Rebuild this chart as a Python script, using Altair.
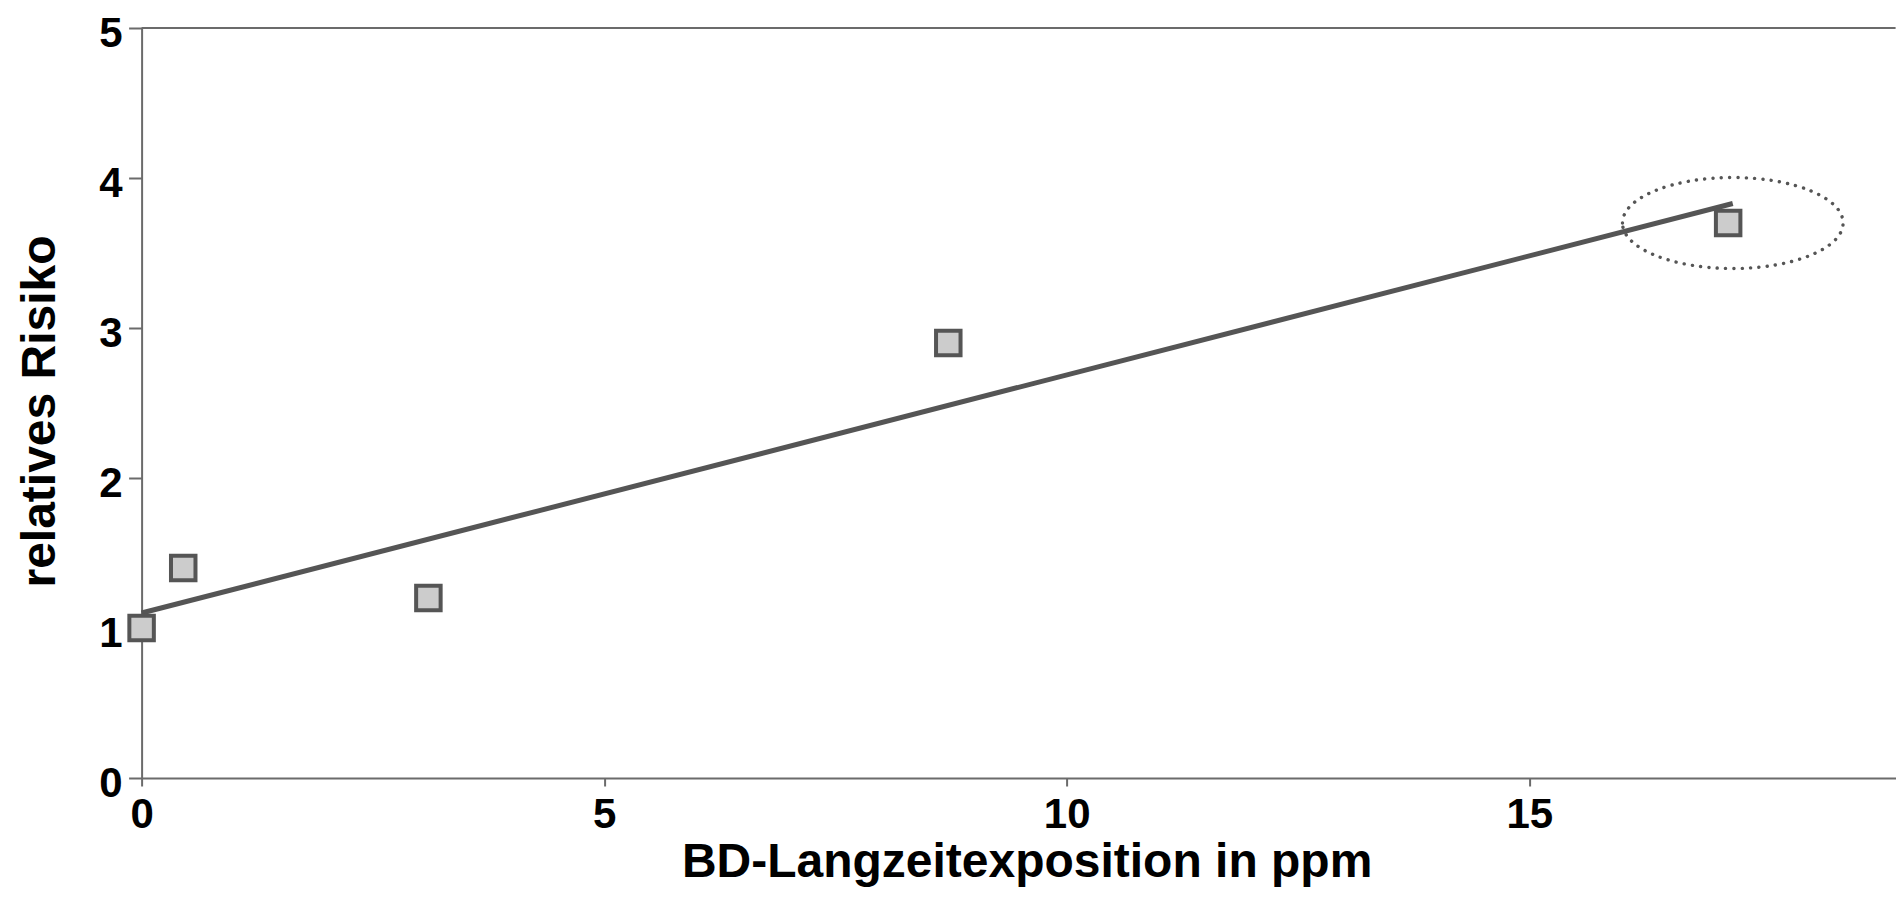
import altair as alt
import pandas as pd

# ---- data ----
exposure_ppm = [0.0, 0.45, 3.1, 8.72, 17.15]
relative_risk = [1.0, 1.4, 1.2, 2.9, 3.7]

trend_x = [0.0, 17.2]
trend_y = [1.1, 3.83]

highlight_x = [17.2]
highlight_y = [3.70]

frame_top = [5]

x_ticks = [0, 5, 10, 15]
y_ticks = [0, 1, 2, 3, 4, 5]

X_MAX = 18.96

points_df = pd.DataFrame({"x": exposure_ppm, "y": relative_risk})
trend_df = pd.DataFrame({"x": trend_x, "y": trend_y})
hl_df = pd.DataFrame({"x": highlight_x, "y": highlight_y})
top_df = pd.DataFrame({"y": frame_top})

AX = "#6b6b6b"
DARK = "#555555"
FONT = "Liberation Sans"

xs = alt.Scale(domain=[0, X_MAX], nice=False, zero=False)
ys = alt.Scale(domain=[0, 5], nice=False)

x_axis = alt.Axis(
    values=x_ticks, grid=False, tickSize=8, tickWidth=2, tickColor=AX,
    domainColor=AX, domainWidth=2,
    labelFont=FONT, labelFontSize=42, labelFontWeight="bold", labelColor="black",
    labelPadding=9, labelBaseline="top", labelFlush=False,
    title="BD-Langzeitexposition in ppm", titleFont=FONT, titleFontSize=48,
    titleFontWeight="bold", titleColor="black", titleX=885, titleY=99,
    titleBaseline="alphabetic", titleAlign="center",
)
y_axis = alt.Axis(
    values=y_ticks, grid=False, tickSize=13, tickWidth=2, tickColor=AX,
    domainColor=AX, domainWidth=2,
    labelFont=FONT, labelFontSize=42, labelFontWeight="bold", labelColor="black",
    labelPadding=6.6, labelFlush=False, labelOffset=5.5,
    title="relatives Risiko", titleFont=FONT, titleFontSize=48,
    titleFontWeight="bold", titleColor="black", titleX=-87, titleY=383,
    titleAngle=270, titleBaseline="alphabetic", titleAlign="center",
)

X = alt.X("x:Q", scale=xs, axis=x_axis)
Y = alt.Y("y:Q", scale=ys, axis=y_axis)

top_rule = alt.Chart(top_df).mark_rule(color=AX, strokeWidth=2).encode(y=Y)

ellipse_path = "M-1,0 A1,0.4125 0 1,1 1,0 A1,0.4125 0 1,1 -1,0 Z"
highlight = alt.Chart(hl_df).mark_point(
    shape=ellipse_path, size=48664, filled=False, stroke=DARK, strokeWidth=3.4,
    strokeDash=[0.1, 8.2], strokeCap="round", opacity=1,
).encode(x=X, y=Y)

trend = alt.Chart(trend_df).mark_line(color=DARK, strokeWidth=5).encode(x=X, y=Y)

points = alt.Chart(points_df).mark_square(
    size=600, fill="#cccccc", stroke=DARK, strokeWidth=4, opacity=1, filled=True
).encode(x=X, y=Y)

chart = (
    alt.layer(top_rule, highlight, trend, points)
    .properties(
        width=1754,
        height=750,
        autosize=alt.AutoSizeParams(type="none"),
        padding={"left": 133.6, "top": 20, "right": 0, "bottom": 111},
    )
    .configure(font=FONT)
    .configure_view(stroke=None)
)

chart.save("out.html", embed_options={"renderer": "svg", "actions": False})
